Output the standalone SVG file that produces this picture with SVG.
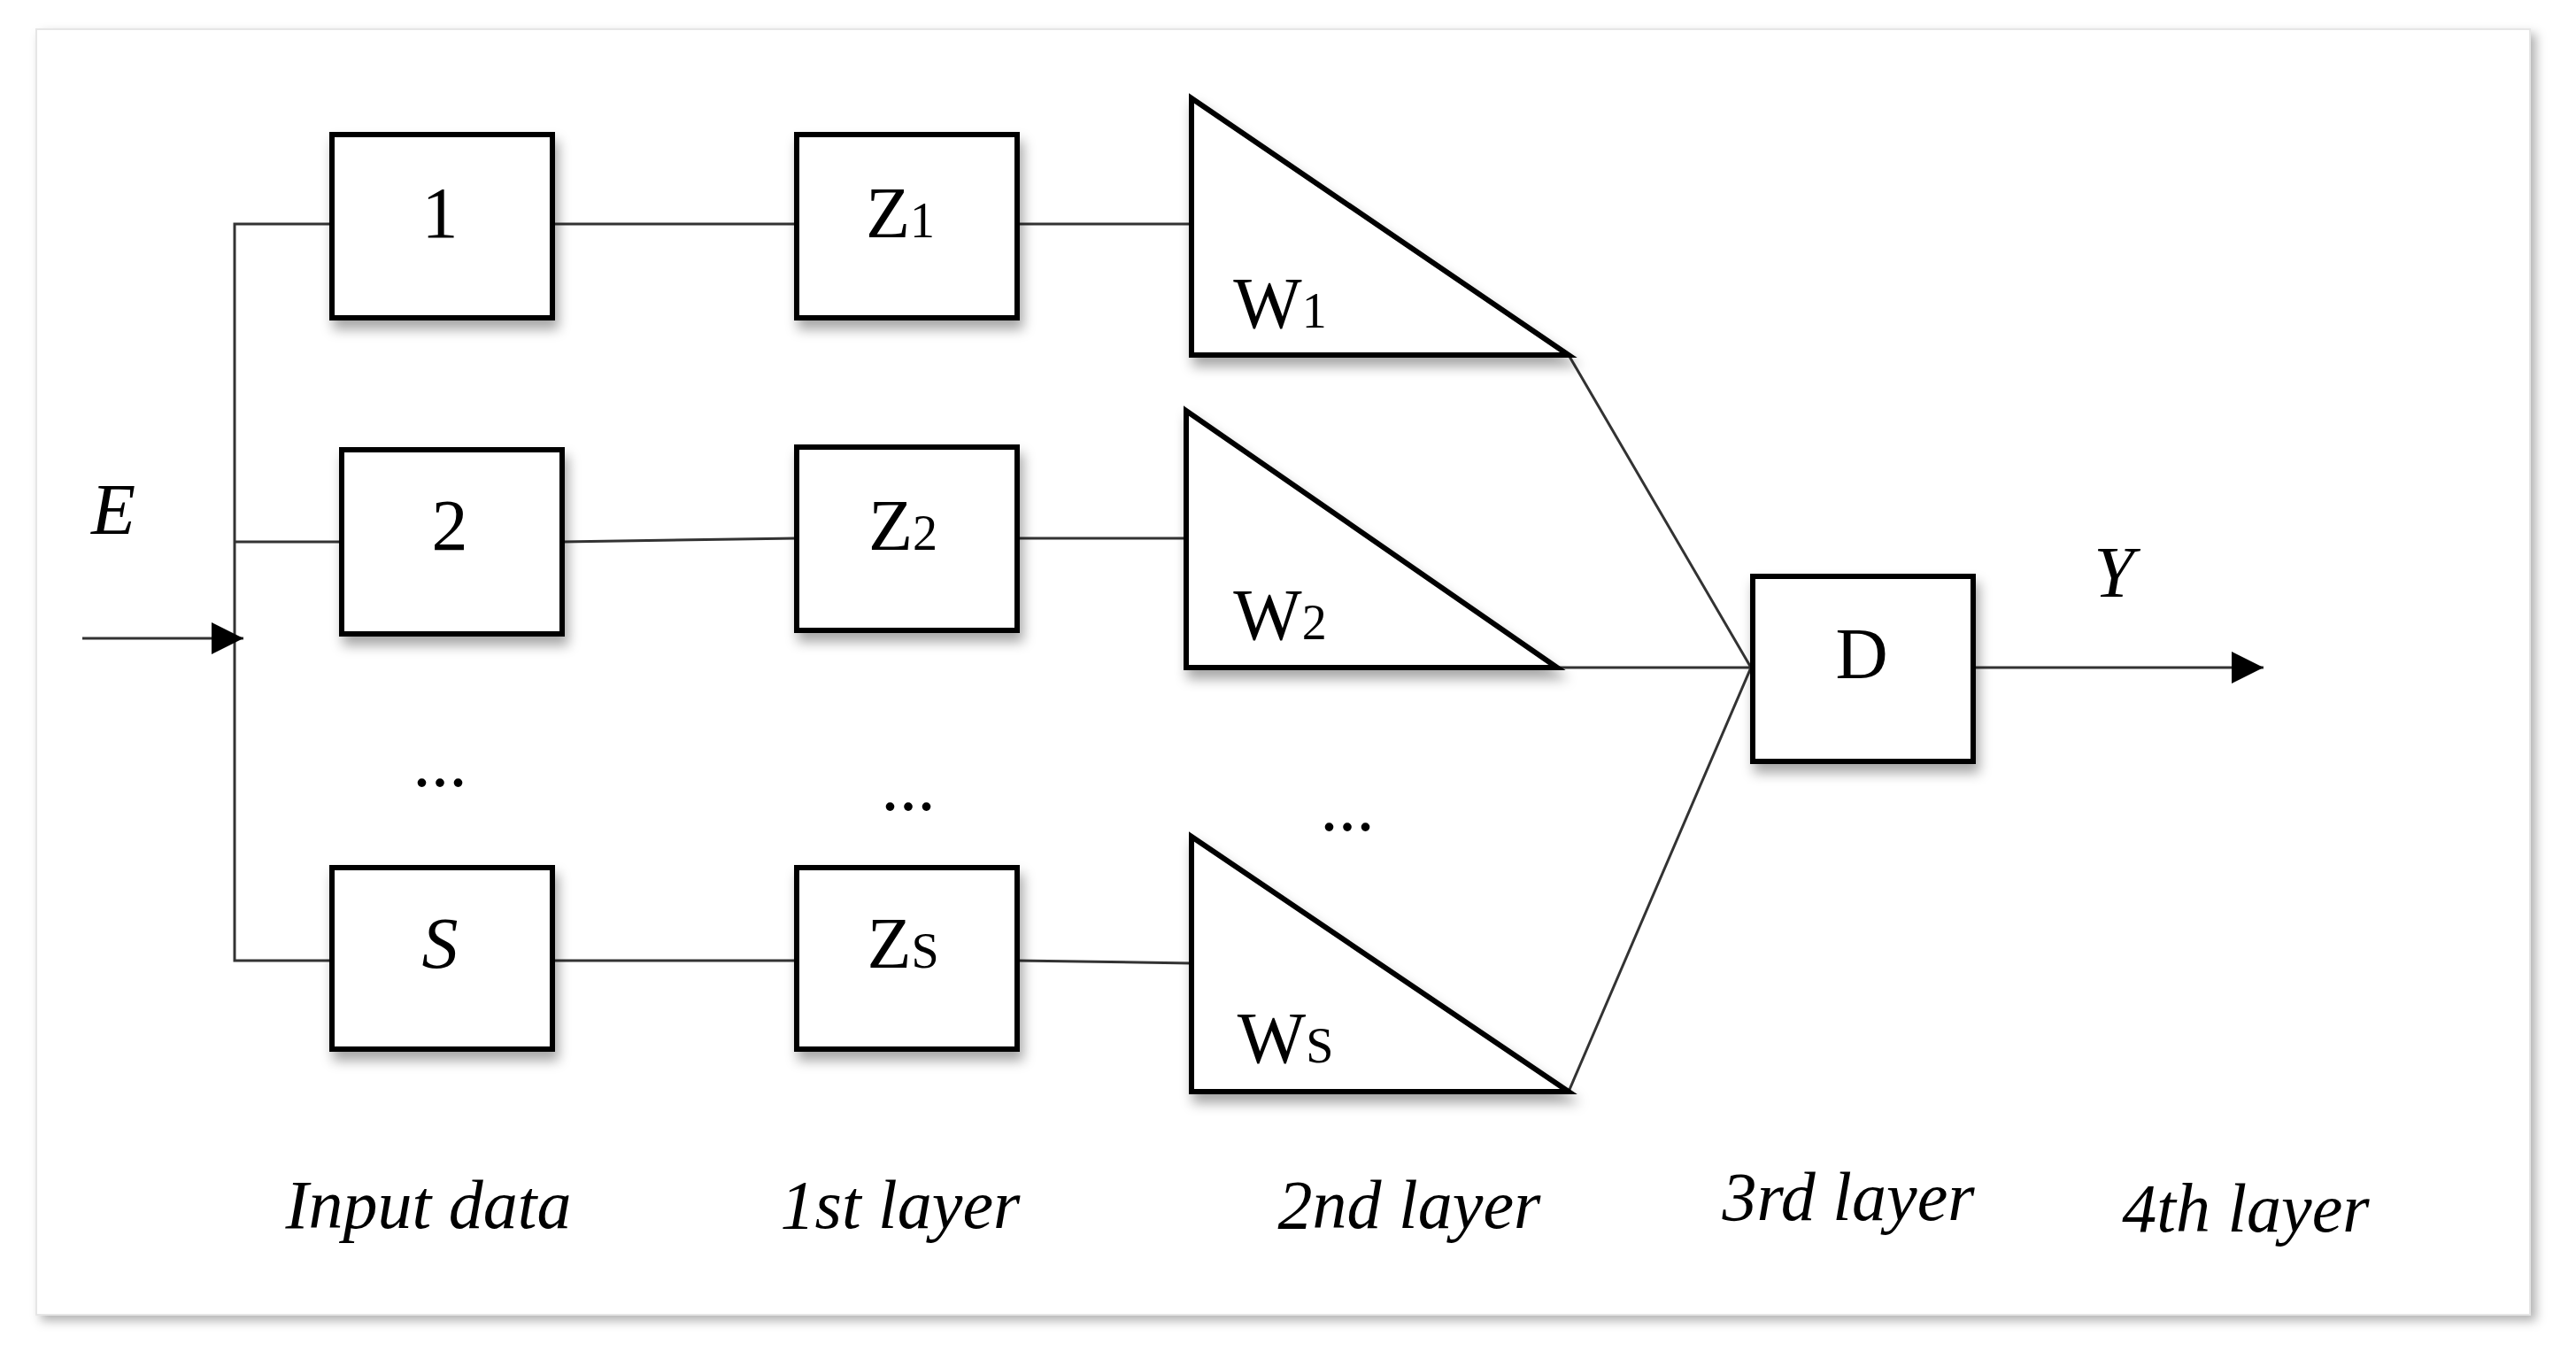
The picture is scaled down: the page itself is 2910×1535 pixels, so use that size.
<svg xmlns="http://www.w3.org/2000/svg" width="2910" height="1535" viewBox="0 0 2910 1535">
<defs>
<filter id="sh" x="-10%" y="-10%" width="130%" height="130%"><feDropShadow dx="4" dy="10" stdDeviation="7" flood-color="#000" flood-opacity="0.35"/></filter>
<filter id="fs" x="-5%" y="-5%" width="110%" height="110%"><feDropShadow dx="6" dy="6" stdDeviation="6" flood-color="#000" flood-opacity="0.3"/></filter>
<marker id="ar" markerWidth="10" markerHeight="10" refX="9" refY="5" orient="auto" markerUnits="userSpaceOnUse" viewBox="0 0 10 10"><path d="M0,0 L10,5 L0,10 Z" fill="#000"/></marker>
<marker id="ar2" viewBox="0 0 10 10" refX="10" refY="5" markerWidth="36" markerHeight="36" markerUnits="userSpaceOnUse" orient="auto"><path d="M0,0 L10,5 L0,10 Z" fill="#000"/></marker>
</defs>
<style>
.n{fill:#fff;stroke:#000;stroke-width:6;filter:url(#sh)}
.c{fill:none;stroke:#333;stroke-width:3}
.t{font-family:"Liberation Serif",serif;font-size:82px;fill:#000;text-anchor:middle}
.i{font-style:italic}
.s{font-size:56px}
.l{font-family:"Liberation Serif",serif;font-style:italic;font-size:78px;fill:#000;text-anchor:middle}
</style>
<rect x="41" y="33" width="2817" height="1452" fill="#fff" stroke="#e6e6e6" stroke-width="2" filter="url(#fs)"/>
<g id="connectors">
<path class="c" d="M375,253 H265 V1085 H375 M265,612 H386"/>
<path class="c" d="M93,721 H275" marker-end="url(#ar2)"/>
<path class="c" d="M624,253 H900 M635,612 L900,608 M624,1085 H900"/>
<path class="c" d="M1149,253 H1346 M1149,608 H1340 M1149,1085 L1346,1088"/>
<path class="c" d="M1772,401 L1978,754 M1759,754 H1980 M1772,1233 L1978,754"/>
<path class="c" d="M2229,754 H2557" marker-end="url(#ar2)"/>
</g>
<g id="box1"><rect class="n" x="375" y="152" width="249" height="207"/><text class="t" x="497" y="268">1</text></g>
<g id="box2"><rect class="n" x="386" y="508" width="249" height="208"/><text class="t" x="508" y="621">2</text></g>
<g id="boxS"><rect class="n" x="375" y="980" width="249" height="205"/><text class="t i" x="497" y="1093">S</text></g>
<g id="z1"><rect class="n" x="900" y="152" width="249" height="207"/><text class="t" x="1017" y="268">Z<tspan class="s">1</tspan></text></g>
<g id="z2"><rect class="n" x="900" y="505" width="249" height="207"/><text class="t" x="1020" y="621">Z<tspan class="s">2</tspan></text></g>
<g id="zS"><rect class="n" x="900" y="980" width="249" height="205"/><text class="t" x="1020" y="1093">Z<tspan class="s">S</tspan></text></g>
<g id="w1"><path class="n" d="M1346,111 V401 H1772 Z"/><text class="t" x="1446" y="370">W<tspan class="s">1</tspan></text></g>
<g id="w2"><path class="n" d="M1340,464 V754 H1759 Z"/><text class="t" x="1446" y="722">W<tspan class="s">2</tspan></text></g>
<g id="wS"><path class="n" d="M1346,945 V1233 H1772 Z"/><text class="t" x="1452" y="1200">W<tspan class="s">S</tspan></text></g>
<g id="d"><rect class="n" x="1980" y="651" width="249" height="209"/><text class="t" x="2103" y="766">D</text></g>
<text class="t i" x="128" y="603">E</text>
<text class="t i" x="2388" y="674">Y</text>
<text class="t" x="497" y="888">...</text>
<text class="t" x="1026" y="915">...</text>
<text class="t" x="1522" y="938">...</text>
<text class="l" x="484" y="1387">Input data</text>
<text class="l" x="1017" y="1387">1st layer</text>
<text class="l" x="1592" y="1387">2nd layer</text>
<text class="l" x="2088" y="1378">3rd layer</text>
<text class="l" x="2537" y="1391">4th layer</text>
</svg>
